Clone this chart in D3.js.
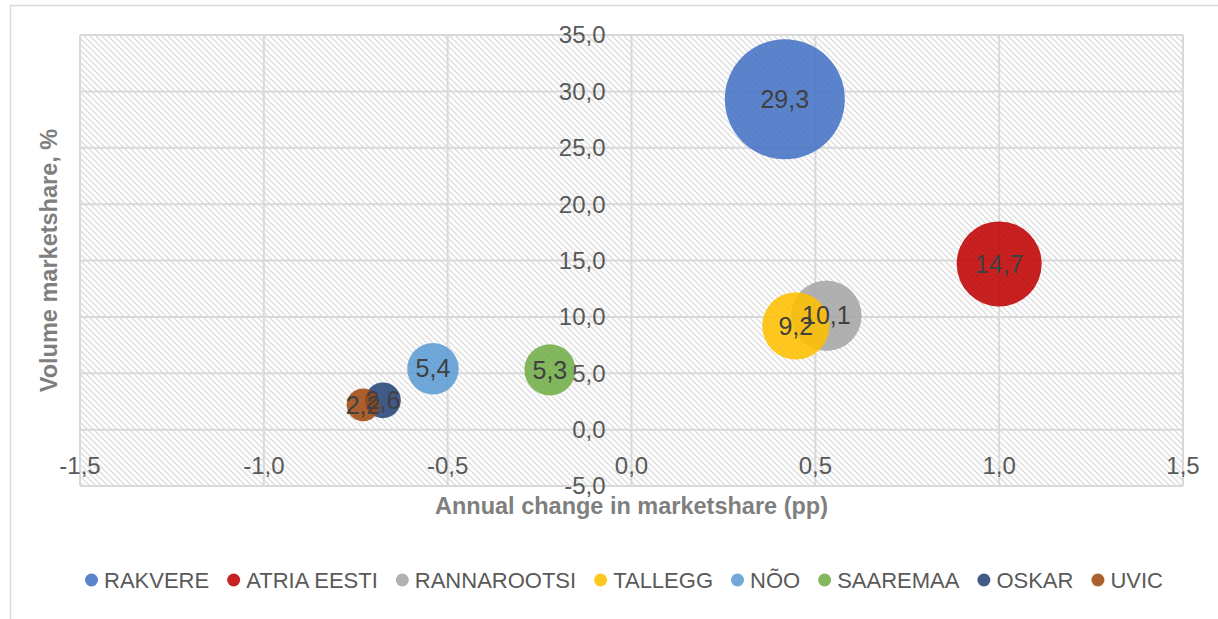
<!DOCTYPE html>
<html>
<head>
<meta charset="utf-8">
<script src="https://cdn.jsdelivr.net/npm/d3@7"></script>
<style>
  body { margin: 0; background: #fff; }
  text { font-family: "Liberation Sans", Arial, sans-serif; }
</style>
</head>
<body>
<div id="chart"></div>
<script>
// chart size
const width = 1218
const height = 619

// data
const companies = ["RAKVERE", "ATRIA EESTI", "RANNAROOTSI", "TALLEGG", "NÕO", "SAAREMAA", "OSKAR", "UVIC"]
const annualChange = [0.417, 1.0, 0.53, 0.447, -0.54, -0.222, -0.676, -0.73]
const marketShare = [29.3, 14.7, 10.1, 9.2, 5.4, 5.3, 2.6, 2.2]
const colors = ["#4472C4", "#C00000", "#A5A5A5", "#FFC000", "#5B9BD5", "#70AD47", "#264478", "#9E480E"]
const xTicks = [-1.5, -1.0, -0.5, 0.0, 0.5, 1.0, 1.5]
const yTicks = [-5, 0, 5, 10, 15, 20, 25, 30, 35]

const fmt = v => d3.format(".1f")(v).replace(".", ",").replace("−", "-")

var points = companies.map((c, i) => ({ name: c, x: annualChange[i], y: marketShare[i], size: marketShare[i], color: colors[i] }))

var svg = d3.select("#chart").append("svg")
  .attr("width", width)
  .attr("height", height)

// hatch pattern for the plot area
var defs = svg.append("defs")
var pat = defs.append("pattern")
  .attr("id", "hatch")
  .attr("patternUnits", "userSpaceOnUse")
  .attr("width", 6)
  .attr("height", 6)
pat.append("rect").attr("width", 6).attr("height", 6).attr("fill", "#fff")
pat.append("path")
  .attr("d", "M-1,-1 L7,7 M-4,2 L2,8 M4,-2 L8,2")
  .attr("stroke", "#dcdcdc")
  .attr("stroke-width", 1.3)

// outer chart border
svg.append("path")
  .attr("d", "M10.5," + height + " L10.5,5.5 L" + width + ",5.5")
  .attr("fill", "none")
  .attr("stroke", "#d9d9d9")
  .attr("stroke-width", 1.5)

// scales
var x = d3.scaleLinear().domain([-1.5, 1.5]).range([80, 1183])
var y = d3.scaleLinear().domain([-5, 35]).range([486, 35])
var r = d3.scaleSqrt().domain([0, 29.3]).range([0, 60])

// plot area
svg.append("rect")
  .attr("x", x(-1.5)).attr("y", y(35))
  .attr("width", x(1.5) - x(-1.5)).attr("height", y(-5) - y(35))
  .attr("fill", "url(#hatch)")

// gridlines
svg.append("g").selectAll("line").data(yTicks).enter().append("line")
  .attr("x1", x(-1.5)).attr("x2", x(1.5))
  .attr("y1", d => y(d)).attr("y2", d => y(d))
  .attr("stroke", "#d9d9d9").attr("stroke-width", 2)
svg.append("g").selectAll("line").data(xTicks).enter().append("line")
  .attr("y1", y(35)).attr("y2", y(-5))
  .attr("x1", d => x(d)).attr("x2", d => x(d))
  .attr("stroke", "#d9d9d9").attr("stroke-width", 2)

// bubbles
svg.append("g").selectAll("circle").data(points).enter().append("circle")
  .attr("cx", d => x(d.x))
  .attr("cy", d => y(d.y))
  .attr("r", d => r(d.size))
  .attr("fill", d => d.color)
  .attr("fill-opacity", 0.87)

// axis labels
svg.append("g").selectAll("text").data(yTicks).enter().append("text")
  .attr("x", x(0) - 26)
  .attr("y", d => y(d))
  .attr("dy", "0.35em")
  .attr("text-anchor", "end")
  .attr("font-size", 24)
  .attr("fill", "#595959")
  .text(d => fmt(d))
svg.append("g").selectAll("text").data(xTicks).enter().append("text")
  .attr("x", d => x(d))
  .attr("y", 466)
  .attr("dy", "0.35em")
  .attr("text-anchor", "middle")
  .attr("font-size", 24)
  .attr("fill", "#595959")
  .text(d => fmt(d))

// data labels
svg.append("g").selectAll("text").data(points).enter().append("text")
  .attr("x", d => x(d.x))
  .attr("y", d => y(d.y))
  .attr("dy", "0.35em")
  .attr("text-anchor", "middle")
  .attr("font-size", 25)
  .attr("fill", "#404040")
  .text(d => fmt(d.size))

// axis titles
svg.append("text")
  .attr("x", (x(-1.5) + x(1.5)) / 2)
  .attr("y", 514)
  .attr("text-anchor", "middle")
  .attr("font-size", 23.5)
  .attr("font-weight", "bold")
  .attr("fill", "#7f7f7f")
  .text("Annual change in marketshare (pp)")
svg.append("text")
  .attr("transform", "translate(57," + (y(35) + y(-5)) / 2 + ") rotate(-90)")
  .attr("text-anchor", "middle")
  .attr("font-size", 23.5)
  .attr("font-weight", "bold")
  .attr("fill", "#7f7f7f")
  .text("Volume marketshare, %")

// legend
var legend = svg.append("g")
var lx = 0
points.forEach(function(d) {
  var item = legend.append("g").attr("transform", "translate(" + lx + ",0)")
  item.append("circle").attr("cx", 6.5).attr("cy", 0).attr("r", 6.5).attr("fill", d.color).attr("fill-opacity", 0.87)
  var t = item.append("text")
    .attr("x", 19).attr("y", 0).attr("dy", "0.35em")
    .attr("font-size", 22)
    .attr("fill", "#595959")
    .text(d.name)
  lx += 19 + t.node().getComputedTextLength() + 18
})
var legendWidth = lx - 18
legend.attr("transform", "translate(" + (624 - legendWidth / 2) + ",580)")
</script>
</body>
</html>
